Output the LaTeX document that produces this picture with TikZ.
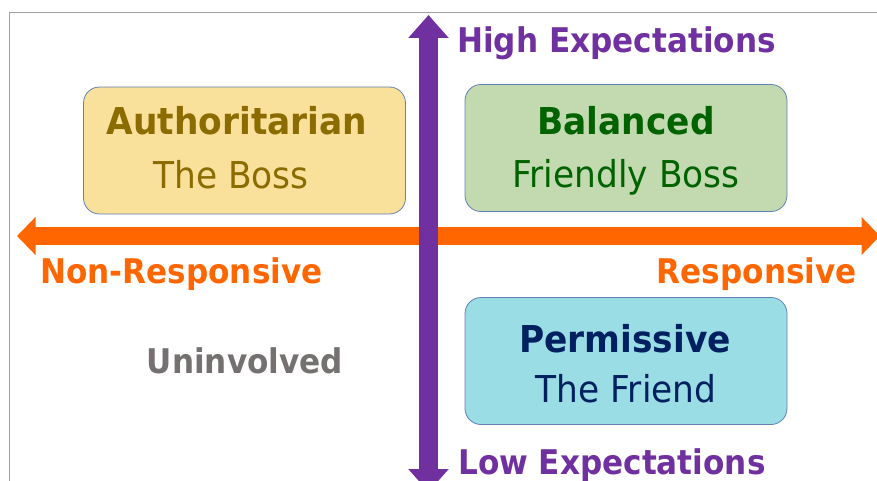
\documentclass[tikz,border=0pt]{standalone}
\usepackage{fontspec}
\setmainfont{DejaVu Sans}[FakeStretch=0.93]
\newfontfamily\axisfont{DejaVu Sans}[FakeStretch=0.915]
\usetikzlibrary{arrows.meta}
\definecolor{frame}{HTML}{A0A0A0}
\definecolor{axisorange}{HTML}{FF6600}
\definecolor{axispurple}{HTML}{7030A0}
\definecolor{boxline}{HTML}{6282B4}
\definecolor{authfill}{HTML}{F9E09B}
\definecolor{authtext}{HTML}{8B6C00}
\definecolor{balfill}{HTML}{C3DAB1}
\definecolor{baltext}{HTML}{006300}
\definecolor{perfill}{HTML}{9ADDE5}
\definecolor{pertext}{HTML}{002060}
\definecolor{unitext}{HTML}{767171}
\tikzset{
  quadbox/.style={draw=boxline, line width=0.8pt, rounded corners=16pt, minimum width=322pt, minimum height=127pt, inner sep=0pt},
  lbl/.style={anchor=base, inner sep=0pt},
  bigbold/.style={font=\bfseries\fontsize{37}{37}\selectfont},
  bigreg/.style={font=\fontsize{37}{37}\selectfont},
  axislbl/.style={font=\axisfont\bfseries\fontsize{34}{34}\selectfont},
}
\begin{document}
\begin{tikzpicture}[x=1pt,y=-1pt]
\useasboundingbox (0,0) rectangle (877,481);
\draw[frame, line width=1pt] (9.5,481) -- (9.5,13) -- (877,13);
% boxes
\node[quadbox, fill=authfill] (auth) at (244.5,150.5) {};
\node[quadbox, fill=balfill] (bal) at (626,148) {};
\node[quadbox, fill=perfill] (per) at (626,361) {};
% axes
\coordinate (hL) at (17,236);
\coordinate (hR) at (880,236);
\draw[axisorange, line width=18pt, {Triangle[width=37pt,length=18.5pt]}-{Triangle[width=37pt,length=18.5pt]}] (hL) -- (hR);
\coordinate (vT) at (428.5,15);
\coordinate (vB) at (428.5,492);
\draw[axispurple, line width=19pt, {Triangle[width=39pt,length=23pt]}-{Triangle[width=39pt,length=23pt]}] (vT) -- (vB);
% texts
\node[lbl, bigbold, text=authtext] (authA) at (237,135) {Authoritarian};
\node[lbl, bigreg, text=authtext] (authB) at (231,188) {The Boss};
\node[lbl, bigbold, text=baltext] (balA) at (626,135) {Balanced};
\node[lbl, bigreg, text=baltext] (balB) at (626,187) {Friendly Boss};
\node[lbl, bigbold, text=pertext] (perA) at (625,352) {Permissive};
\node[lbl, bigreg, text=pertext] (perB) at (626,402) {The Friend};
\node[lbl, axislbl, text=axispurple, anchor=base west] (high) at (457,53) {High Expectations};
\node[lbl, axislbl, text=axispurple, anchor=base west] (low) at (458,474) {Low Expectations};
\node[lbl, axislbl, text=axisorange, anchor=base west] (nonr) at (40,283) {Non-Responsive};
\node[lbl, axislbl, text=axisorange, anchor=base east] (resp) at (857,283) {Responsive};
\node[lbl, axislbl, text=unitext] (uninv) at (245,373) {Uninvolved};
\end{tikzpicture}
\end{document}
